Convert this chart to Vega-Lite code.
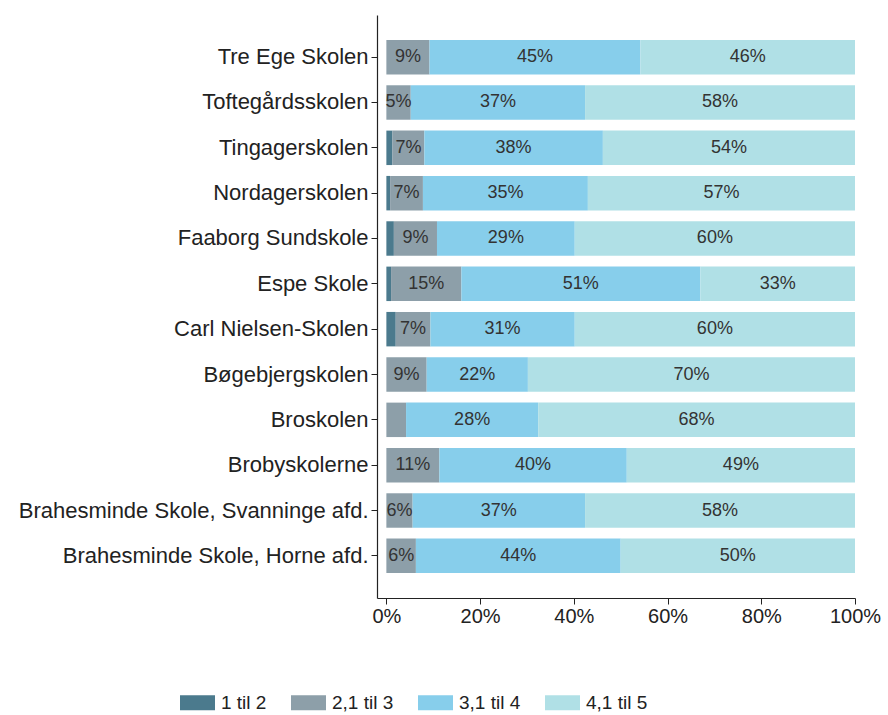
{
  "$schema": "https://vega.github.io/schema/vega-lite/v6.json",
  "width": 478,
  "height": 583,
  "autosize": {"type": "none"},
  "padding": {"left": 377, "top": 15, "right": 33, "bottom": 117},
  "background": "white",
  "config": {
    "view": {"stroke": null},
    "font": "Liberation Sans",
    "axis": {"labelFont": "Liberation Sans", "labelColor": "#222", "domainColor": "#222", "tickColor": "#222", "grid": false, "title": null},
    "legend": {"labelFont": "Liberation Sans"}
  },
  "data": {
    "values": [
      {"school": "Tre Ege Skolen", "cat": "1 til 2", "v": 0},
      {"school": "Tre Ege Skolen", "cat": "2,1 til 3", "v": 0.092},
      {"school": "Tre Ege Skolen", "cat": "3,1 til 4", "v": 0.45},
      {"school": "Tre Ege Skolen", "cat": "4,1 til 5", "v": 0.458},
      {"school": "Toftegårdsskolen", "cat": "1 til 2", "v": 0},
      {"school": "Toftegårdsskolen", "cat": "2,1 til 3", "v": 0.052},
      {"school": "Toftegårdsskolen", "cat": "3,1 til 4", "v": 0.372},
      {"school": "Toftegårdsskolen", "cat": "4,1 til 5", "v": 0.576},
      {"school": "Tingagerskolen", "cat": "1 til 2", "v": 0.013},
      {"school": "Tingagerskolen", "cat": "2,1 til 3", "v": 0.068},
      {"school": "Tingagerskolen", "cat": "3,1 til 4", "v": 0.381},
      {"school": "Tingagerskolen", "cat": "4,1 til 5", "v": 0.538},
      {"school": "Nordagerskolen", "cat": "1 til 2", "v": 0.008},
      {"school": "Nordagerskolen", "cat": "2,1 til 3", "v": 0.07},
      {"school": "Nordagerskolen", "cat": "3,1 til 4", "v": 0.352},
      {"school": "Nordagerskolen", "cat": "4,1 til 5", "v": 0.57},
      {"school": "Faaborg Sundskole", "cat": "1 til 2", "v": 0.016},
      {"school": "Faaborg Sundskole", "cat": "2,1 til 3", "v": 0.092},
      {"school": "Faaborg Sundskole", "cat": "3,1 til 4", "v": 0.294},
      {"school": "Faaborg Sundskole", "cat": "4,1 til 5", "v": 0.598},
      {"school": "Espe Skole", "cat": "1 til 2", "v": 0.01},
      {"school": "Espe Skole", "cat": "2,1 til 3", "v": 0.15},
      {"school": "Espe Skole", "cat": "3,1 til 4", "v": 0.51},
      {"school": "Espe Skole", "cat": "4,1 til 5", "v": 0.33},
      {"school": "Carl Nielsen-Skolen", "cat": "1 til 2", "v": 0.02},
      {"school": "Carl Nielsen-Skolen", "cat": "2,1 til 3", "v": 0.074},
      {"school": "Carl Nielsen-Skolen", "cat": "3,1 til 4", "v": 0.308},
      {"school": "Carl Nielsen-Skolen", "cat": "4,1 til 5", "v": 0.598},
      {"school": "Bøgebjergskolen", "cat": "1 til 2", "v": 0},
      {"school": "Bøgebjergskolen", "cat": "2,1 til 3", "v": 0.086},
      {"school": "Bøgebjergskolen", "cat": "3,1 til 4", "v": 0.216},
      {"school": "Bøgebjergskolen", "cat": "4,1 til 5", "v": 0.698},
      {"school": "Broskolen", "cat": "1 til 2", "v": 0},
      {"school": "Broskolen", "cat": "2,1 til 3", "v": 0.042},
      {"school": "Broskolen", "cat": "3,1 til 4", "v": 0.282},
      {"school": "Broskolen", "cat": "4,1 til 5", "v": 0.676},
      {"school": "Brobyskolerne", "cat": "1 til 2", "v": 0},
      {"school": "Brobyskolerne", "cat": "2,1 til 3", "v": 0.113},
      {"school": "Brobyskolerne", "cat": "3,1 til 4", "v": 0.4},
      {"school": "Brobyskolerne", "cat": "4,1 til 5", "v": 0.487},
      {"school": "Brahesminde Skole, Svanninge afd.", "cat": "1 til 2", "v": 0},
      {"school": "Brahesminde Skole, Svanninge afd.", "cat": "2,1 til 3", "v": 0.056},
      {"school": "Brahesminde Skole, Svanninge afd.", "cat": "3,1 til 4", "v": 0.368},
      {"school": "Brahesminde Skole, Svanninge afd.", "cat": "4,1 til 5", "v": 0.576},
      {"school": "Brahesminde Skole, Horne afd.", "cat": "1 til 2", "v": 0},
      {"school": "Brahesminde Skole, Horne afd.", "cat": "2,1 til 3", "v": 0.063},
      {"school": "Brahesminde Skole, Horne afd.", "cat": "3,1 til 4", "v": 0.437},
      {"school": "Brahesminde Skole, Horne afd.", "cat": "4,1 til 5", "v": 0.5}
    ]
  },
  "transform": [
    {"stack": "v", "groupby": ["school"], "sort": [{"field": "cat", "order": "ascending"}], "as": ["v0", "v1"]},
    {"calculate": "(datum.v0 + datum.v1) / 2", "as": "mid"}
  ],
  "encoding": {
    "y": {
      "field": "school",
      "type": "nominal",
      "sort": ["Tre Ege Skolen", "Toftegårdsskolen", "Tingagerskolen", "Nordagerskolen", "Faaborg Sundskole", "Espe Skole", "Carl Nielsen-Skolen", "Bøgebjergskolen", "Broskolen", "Brobyskolerne", "Brahesminde Skole, Svanninge afd.", "Brahesminde Skole, Horne afd."],
      "scale": {"paddingInner": 0.24, "paddingOuter": 0.55},
      "axis": {"labelFontSize": 22, "labelPadding": 3, "tickSize": 6, "domainWidth": 1.2, "labelLimit": 400}
    }
  },
  "layer": [
    {
      "mark": {"type": "bar"},
      "encoding": {
        "x": {
          "field": "v0",
          "type": "quantitative",
          "scale": {"domain": [-0.02, 1], "nice": false, "zero": false},
          "axis": {"values": [0, 0.2, 0.4, 0.6, 0.8, 1], "format": ".0%", "labelFontSize": 20, "tickSize": 6, "labelPadding": 2, "domainWidth": 1.2, "labelFlush": false}
        },
        "x2": {"field": "v1"},
        "color": {
          "field": "cat",
          "type": "nominal",
          "scale": {"domain": ["1 til 2", "2,1 til 3", "3,1 til 4", "4,1 til 5"], "range": ["#4b7a8d", "#8d9fa9", "#87ceeb", "#b0e0e6"]},
          "legend": {
            "title": null,
            "orient": "none",
            "direction": "horizontal",
            "legendX": -197,
            "legendY": 670,
            "symbolType": "M-1,-0.43H1V0.43H-1Z",
            "symbolSize": 1225,
            "symbolStrokeWidth": 0,
            "labelFontSize": 19,
            "labelColor": "#222",
            "labelOffset": 6,
            "columnPadding": 24
          }
        }
      }
    },
    {
      "transform": [{"filter": "datum.v >= 0.045"}],
      "mark": {"type": "text", "fontSize": 18, "color": "#333", "align": "center", "baseline": "middle"},
      "encoding": {
        "x": {"field": "mid", "type": "quantitative"},
        "text": {"field": "v", "type": "quantitative", "format": ".0%"}
      }
    }
  ]
}
